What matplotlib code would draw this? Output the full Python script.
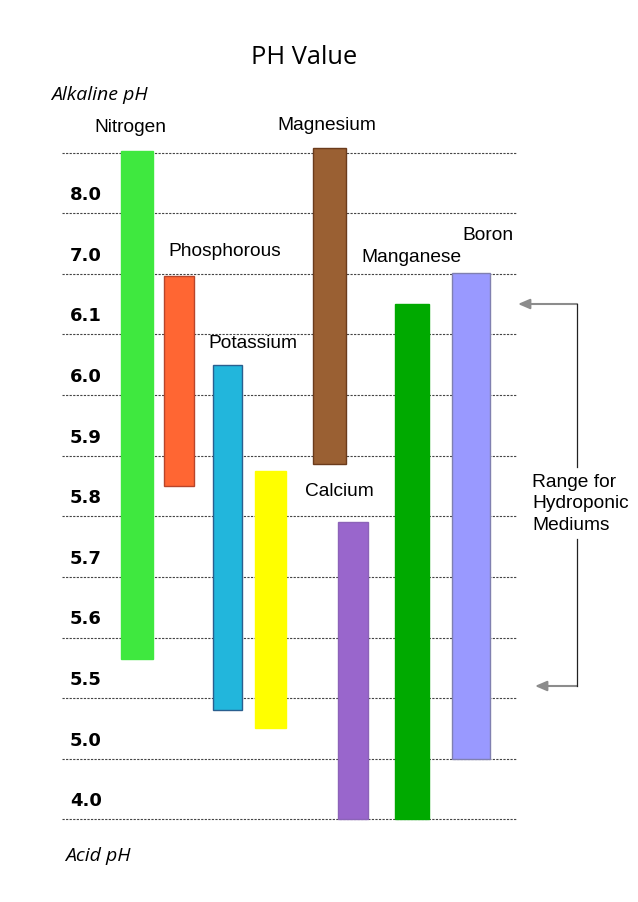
import matplotlib.pyplot as plt
from matplotlib.patches import FancyArrowPatch

# Scala non uniforme: ogni livello della griglia e' una "riga" (0 = linea in basso)
ph_labels = ['4.0', '5.0', '5.5', '5.6', '5.7', '5.8', '5.9', '6.0', '6.1', '7.0', '8.0']
n_righe = 11

# Intervalli di pH per ogni nutriente, in unita' di riga
nutrienti = ['Nitrogen', 'Phosphorous', 'Potassium', '', 'Magnesium', 'Calcium', 'Manganese', 'Boron']
basso = [2.64, 5.50, 1.80, 1.50, 5.87, 0.0, 0.0, 1.0]
alto = [11.02, 8.97, 7.50, 5.75, 11.07, 4.90, 8.50, 9.01]

colori = ['#3fe83f', '#ff6633', '#22b6dc', '#ffff00', '#9a6033', '#9966cc', '#00aa00', '#9999ff']
bordi = ['#3fe83f', '#b8452a', '#2a5f8f', '#ffff00', '#6b3b1c', '#8c63b8', '#00aa00', '#8080b0']

# posizioni orizzontali (pixel) e larghezze delle barre
x_sx = [121, 164.3, 213.3, 255.3, 312.5, 337.5, 395, 452.3]
x_dx = [153.3, 194.3, 242.3, 285.7, 346, 368, 428.7, 490]
etichette_xy = [(130, 128), (225, 251), (253, 343), None, (327, 125), (339, 492), (411, 258), (488, 235)]

riga_px = 60.6
base_px = 819.3


def y_u(pix):
    return (base_px - pix) / riga_px


fig = plt.figure(figsize=(6.38, 9.02), dpi=100)
ax = fig.add_axes([0, 0, 1, 1])
ax.set_xlim(0, 638)
ax.set_ylim(y_u(902), y_u(0))
ax.axis('off')

# linee tratteggiate della griglia
for r in range(n_righe + 1):
    ax.plot([62, 517], [r, r], color='#444444', linestyle=(0, (2, 1.2)), linewidth=0.8, zorder=1)

# etichette pH
for i, lab in enumerate(ph_labels):
    ax.text(86, i + 0.3, lab, ha='center', va='center', fontsize=13,
            fontweight='bold', family='DejaVu Sans', color='black')

# barre
for i in range(len(nutrienti)):
    ax.bar((x_sx[i] + x_dx[i]) / 2, alto[i] - basso[i], bottom=basso[i],
           width=x_dx[i] - x_sx[i], color=colori[i], edgecolor=bordi[i],
           linewidth=1.0, zorder=3)
    if etichette_xy[i] is not None:
        ex, ey = etichette_xy[i]
        ax.text(ex, y_u(ey), nutrienti[i], ha='center', va='center',
                fontsize=13.8, family='Liberation Sans', color='black')

# titolo e testi
ax.text(304, y_u(57), 'PH Value', ha='center', va='center', fontsize=18.3, family='Open Sans')
ax.text(99.5, y_u(95), 'Alkaline pH', ha='center', va='center', fontsize=14,
        family='Open Sans', style='italic')
ax.text(97.5, y_u(856), 'Acid pH', ha='center', va='center', fontsize=14,
        family='Open Sans', style='italic')

# range idroponico
ax.text(532, y_u(504), 'Range for\nHydroponic\nMediums', ha='left', va='center',
        fontsize=13.8, family='Liberation Sans', linespacing=1.32)
ax.plot([577, 577], [y_u(304), y_u(467)], color='#222222', linewidth=0.9)
ax.plot([577, 577], [y_u(539), y_u(686)], color='#222222', linewidth=0.9)
for y_pix, tip in [(304, 518), (686, 535)]:
    ax.add_patch(FancyArrowPatch((577, y_u(y_pix)), (tip, y_u(y_pix)),
                                 arrowstyle='-|>,head_length=7,head_width=3',
                                 color='#8c8c8c', linewidth=1.5, mutation_scale=1,
                                 shrinkA=0, shrinkB=0))

plt.savefig('out.png', dpi=100)
plt.close()
